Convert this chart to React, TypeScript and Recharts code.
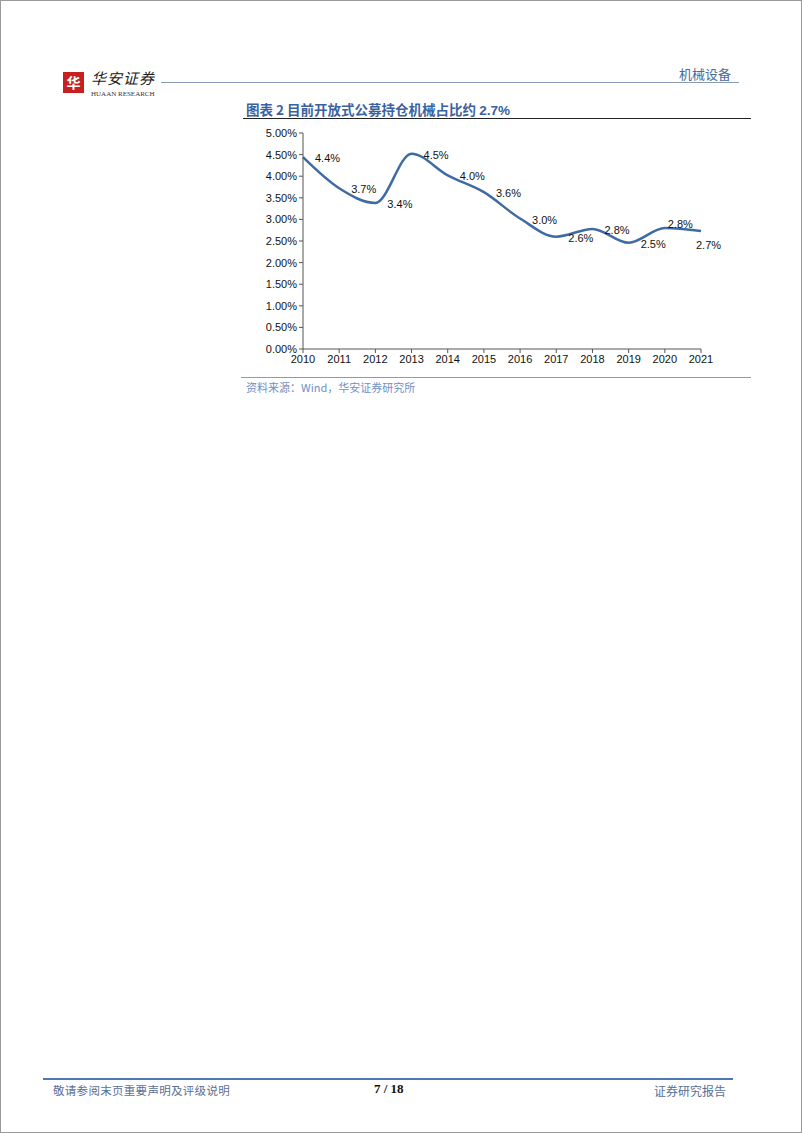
import React from "react";
import { LineChart, Line, XAxis, YAxis, LabelList } from "recharts";

const years = ["2010", "2011", "2012", "2013", "2014", "2015", "2016", "2017", "2018", "2019", "2020", "2021"];
const shares = [4.44, 3.72, 3.38, 4.52, 4.02, 3.63, 3.02, 2.6, 2.78, 2.46, 2.8, 2.73];
const yTicks = [0, 0.5, 1, 1.5, 2, 2.5, 3, 3.5, 4, 4.5, 5];

const data = years.map((y, i) => ({ year: y, share: shares[i] }));

const FONT = "'Liberation Sans', Arial, sans-serif";
const CJK = "'Noto Sans CJK SC', sans-serif";

const PointLabel = (props: any) => {
  const { x, y, value, index } = props;
  let dx = 12;
  let dy = 5;
  if (index === 10) { dx = 3; dy = 0; }
  if (index === 11) { dx = -5; dy = 18; }
  return (
    <text x={x + dx} y={y + dy} fontSize={11} fontFamily={FONT} fill="#111" textAnchor="start">
      {Number(value).toFixed(1) + "%"}
    </text>
  );
};

export default function App() {
  return (
    <div style={{ position: "absolute", left: 0, top: 0, width: 802, height: 1133, background: "#fff", boxSizing: "border-box", border: "1px solid #9a9a9a", fontFamily: CJK }}>
      {/* header logo */}
      <div style={{ position: "absolute", left: 62, top: 71, width: 21, height: 21, background: "#c8201f", color: "#fff", fontSize: 14, lineHeight: "21px", textAlign: "center", fontWeight: 700 }}>华</div>
      <div style={{ position: "absolute", left: 90, top: 66, fontSize: 15, color: "#222", fontStyle: "italic", letterSpacing: 1 }}>华安证券</div>
      <div style={{ position: "absolute", left: 90, top: 89, fontSize: 7, color: "#333", fontFamily: "'Liberation Serif', serif" }}>HUAAN RESEARCH</div>
      <div style={{ position: "absolute", left: 160, top: 81, width: 578, height: 1, background: "#8a9bb5" }} />
      <div style={{ position: "absolute", left: 678, top: 63, fontSize: 13, color: "#4a6a9a" }}>机械设备</div>

      {/* title */}
      <div style={{ position: "absolute", left: 245, top: 98, fontSize: 13.5, fontWeight: 700, color: "#3a62a0" }}>
        图表 2 目前开放式公募持仓机械占比约 <span style={{ fontFamily: FONT }}>2.7%</span>
      </div>
      <div style={{ position: "absolute", left: 242, top: 117, width: 508, height: 1, background: "#222" }} />

      {/* chart */}
      <div style={{ position: "absolute", left: 240, top: 120 }}>
        <LineChart width={520} height={250} data={data} margin={{ top: 12, right: 60, bottom: 0, left: 0 }}>
          <XAxis
            dataKey="year"
            height={22}
            tickLine={{ stroke: "#555" }}
            axisLine={{ stroke: "#555" }}
            tickSize={4}
            tick={{ fontSize: 11, fontFamily: FONT, fill: "#111" }}
            interval={0}
          />
          <YAxis
            width={62}
            domain={[0, 5]}
            ticks={yTicks}
            tickFormatter={(v: number) => v.toFixed(2) + "%"}
            tickLine={{ stroke: "#555" }}
            axisLine={{ stroke: "#555" }}
            tickSize={4}
            tick={{ fontSize: 11, fontFamily: FONT, fill: "#111" }}
          />
          <Line
            type="monotone"
            dataKey="share"
            stroke="#3f6ba5"
            strokeWidth={2.5}
            dot={false}
            isAnimationActive={false}
          >
            <LabelList dataKey="share" content={<PointLabel />} />
          </Line>
        </LineChart>
      </div>

      {/* source */}
      <div style={{ position: "absolute", left: 240, top: 376, width: 510, height: 1, background: "#999" }} />
      <div style={{ position: "absolute", left: 245, top: 378, fontSize: 11, color: "#6f8fc6" }}>资料来源：Wind，华安证券研究所</div>

      {/* footer */}
      <div style={{ position: "absolute", left: 42, top: 1077, width: 690, height: 2, background: "#4f77b8" }} />
      <div style={{ position: "absolute", left: 52, top: 1081, fontSize: 11.5, letterSpacing: 0.3, color: "#5a6f95" }}>敬请参阅末页重要声明及评级说明</div>
      <div style={{ position: "absolute", left: 373, top: 1080, fontSize: 13, color: "#111", fontFamily: "'Liberation Serif', serif", fontWeight: 700 }}>7 / 18</div>
      <div style={{ position: "absolute", left: 653, top: 1081, fontSize: 12, color: "#5a6f95" }}>证券研究报告</div>
    </div>
  );
}
